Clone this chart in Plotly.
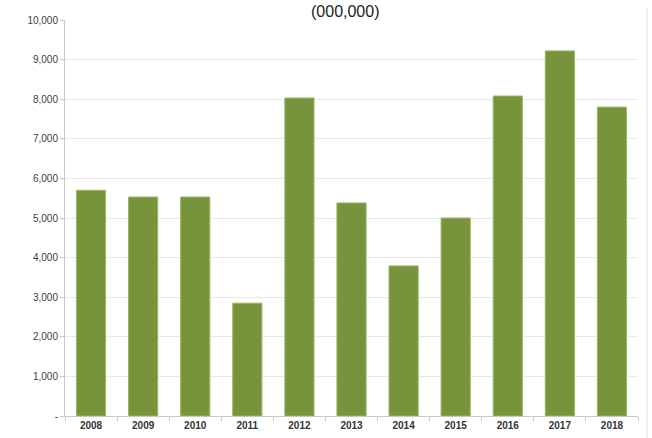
import plotly.graph_objects as go

years = ["2008", "2009", "2010", "2011", "2012", "2013", "2014", "2015", "2016", "2017", "2018"]
values = [5700, 5530, 5530, 2850, 8030, 5380, 3790, 5000, 8080, 9220, 7800]
ytick_vals = [0, 1000, 2000, 3000, 4000, 5000, 6000, 7000, 8000, 9000, 10000]
ytick_text = ["-", "1,000", "2,000", "3,000", "4,000", "5,000", "6,000", "7,000", "8,000", "9,000", "10,000"]

W, H = 652, 438
L, R, T, B = 65, 14, 20, 22

fig = go.Figure(go.Bar(
    x=years, y=values,
    marker=dict(color="#77933c", line=dict(color="#9bb85f", width=1)),
    width=0.56,
))

fig.update_layout(
    width=W, height=H,
    margin=dict(l=L, r=R, t=T, b=B, autoexpand=False),
    paper_bgcolor="white", plot_bgcolor="white",
    showlegend=False,
    font=dict(family="Liberation Sans, Arial, sans-serif", color="#404040"),
    xaxis=dict(
        type="category", automargin=False,
        showgrid=False,
        showline=True, linecolor="#c8c8c8", linewidth=1,
        ticks="outside", tickson="boundaries", ticklen=4, tickcolor="#c8c8c8",
        tickfont=dict(size=10, color="#333333", family="Liberation Sans, Arial, sans-serif"),
        tickprefix="<b>", ticksuffix="</b>",
    ),
    yaxis=dict(
        range=[0, 10000], automargin=False,
        tickvals=ytick_vals, ticktext=ytick_text,
        showgrid=True, gridcolor="#e8e8e8", gridwidth=1,
        showline=True, linecolor="#c8c8c8", linewidth=1,
        ticks="outside", ticklen=4, tickcolor="#c8c8c8",
        tickfont=dict(size=10, color="#404040"),
        zeroline=False,
    ),
    annotations=[dict(
        text="(000,000)", xref="paper", yref="paper",
        x=(345 - L) / (W - L - R), y=1 + (T - 1) / (H - T - B),
        xanchor="center", yanchor="top", showarrow=False,
        font=dict(size=16, color="#222222", family="Liberation Sans, Arial, sans-serif"),
    )],
    shapes=[dict(
        type="line", xref="paper", yref="paper",
        x0=(647 - L) / (W - L - R), x1=(647 - L) / (W - L - R),
        y0=-(B) / (H - T - B), y1=1 + (T - 8) / (H - T - B),
        line=dict(color="#e0e0e0", width=1),
    )],
)

fig.write_html("out.html")
